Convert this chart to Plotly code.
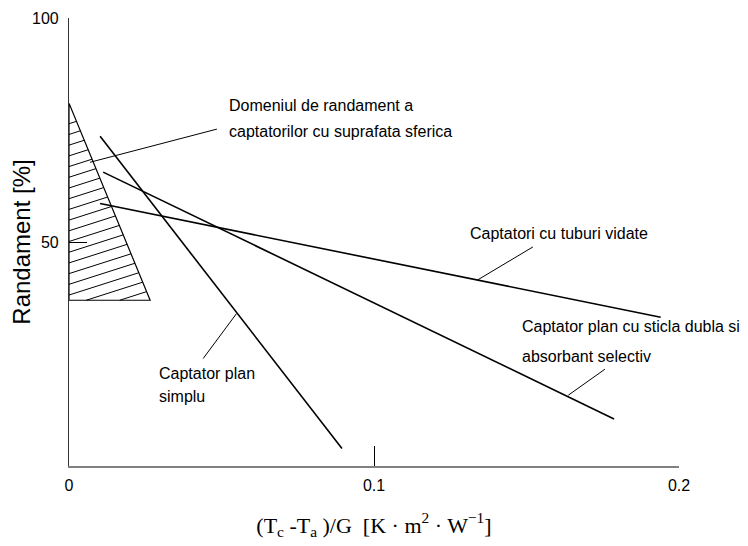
import plotly.graph_objects as go

# ---------------- data ----------------
# collector efficiency lines: (T_c - T_a)/G  vs  efficiency [%]
SIMPLU_X = [0.0102, 0.0895]
SIMPLU_Y = [73.6, 3.9]
DUBLA_X = [0.0112, 0.1787]
DUBLA_Y = [65.6, 10.5]
VIDATE_X = [0.0102, 0.1940]
VIDATE_Y = [58.6, 33.2]

# hatched domain (spherical-surface collectors)
DOMAIN_X = [0.0, 0.0266, 0.0]
DOMAIN_Y = [81.0, 37.0, 37.0]

X_TICKS = [0, 0.1, 0.2]
X_TICK_TEXT = ["0", "0.1", "0.2"]
Y_TICKS = [50, 100]
Y_TICK_TEXT = ["50", "100"]

# label texts with anchor (x, y) and leader segments (from line point to label)
LABELS = [
    ("Domeniul de randament a", 0.0518, 80.5),
    ("captatorilor cu suprafata sferica", 0.0518, 74.7),
    ("Captatori cu tuburi vidate", 0.1308, 52.0),
    ("Captator plan cu sticla dubla si", 0.1479, 31.1),
    ("absorbant selectiv", 0.1479, 24.4),
    ("Captator plan", 0.0287, 20.7),
    ("simplu", 0.0287, 15.5),
]
LEADER_X0 = [0.0069, 0.1339, 0.1637, 0.0549]
LEADER_Y0 = [67.8, 41.5, 15.8, 34.0]
LEADER_X1 = [0.0485, 0.1521, 0.1757, 0.0440]
LEADER_Y1 = [75.2, 48.9, 21.6, 24.0]

# hatch style (slope in data units, spacing in %, first line intercept)
HATCH_SLOPE = 217.7
HATCH_STEP = 2.39
HATCH_TOP = 76.4

# ---------------- hatch geometry (clip lines to triangle) ----------------
def clip_line_to_polygon(c, s, px, py):
    pts = []
    n = len(px)
    for i in range(n):
        x0, y0 = px[i], py[i]
        x1, y1 = px[(i + 1) % n], py[(i + 1) % n]
        f0 = y0 - (c + s * x0)
        f1 = y1 - (c + s * x1)
        if f0 == f1:
            continue
        t = f0 / (f0 - f1)
        if 0 <= t <= 1:
            xi = x0 + t * (x1 - x0)
            pts.append((xi, c + s * xi))
    if len(pts) < 2:
        return None
    pts.sort()
    return pts[0], pts[-1]

hx, hy = [], []
c = HATCH_TOP
ymin = min(DOMAIN_Y)
while c > ymin - HATCH_SLOPE * max(DOMAIN_X):
    seg = clip_line_to_polygon(c, HATCH_SLOPE, DOMAIN_X, DOMAIN_Y)
    if seg and seg[1][0] - seg[0][0] > 1e-5:
        hx += [seg[0][0], seg[1][0], None]
        hy += [seg[0][1], seg[1][1], None]
    c -= HATCH_STEP

fig = go.Figure()

# hatch
fig.add_trace(go.Scatter(x=hx, y=hy, mode="lines",
                         line=dict(color="black", width=1), hoverinfo="skip"))
# domain outline
fig.add_trace(go.Scatter(x=DOMAIN_X + [DOMAIN_X[0]], y=DOMAIN_Y + [DOMAIN_Y[0]],
                         mode="lines", line=dict(color="black", width=1.2)))
# collector lines
for xs, ys in [(SIMPLU_X, SIMPLU_Y), (DUBLA_X, DUBLA_Y), (VIDATE_X, VIDATE_Y)]:
    fig.add_trace(go.Scatter(x=xs, y=ys, mode="lines",
                             line=dict(color="black", width=1.6)))
# leaders
lx, ly = [], []
for a, b, c2, d in zip(LEADER_X0, LEADER_Y0, LEADER_X1, LEADER_Y1):
    lx += [a, c2, None]
    ly += [b, d, None]
fig.add_trace(go.Scatter(x=lx, y=ly, mode="lines",
                         line=dict(color="black", width=1)))

for text, x, y in LABELS:
    fig.add_annotation(x=x, y=y, text=text, showarrow=False,
                       xanchor="left", yanchor="middle",
                       font=dict(family="Liberation Sans, Arial", size=16, color="black"))

fig.update_xaxes(range=[0, 0.2], showgrid=False, zeroline=False,
                 showline=True, linecolor="#808080", linewidth=2,
                 ticks="inside", ticklen=20, tickwidth=1, tickcolor="black",
                 tickvals=X_TICKS, ticktext=X_TICK_TEXT,
                 ticklabelstandoff=4,
                 tickfont=dict(family="Liberation Sans, Arial", size=16, color="black"),
                 title=dict(text="(T<sub>c</sub> -T<sub>a</sub> )/G&nbsp;&nbsp;[K · m<sup>2</sup> · W<sup>−1</sup>]",
                            font=dict(family="Liberation Serif, Times New Roman", size=22, color="black"),
                            standoff=24))
fig.update_yaxes(range=[0, 100], showgrid=False, zeroline=False,
                 showline=True, linecolor="#333333", linewidth=1.2,
                 ticks="inside", ticklen=18, tickwidth=1, tickcolor="black",
                 tickvals=Y_TICKS, ticktext=Y_TICK_TEXT,
                 ticklabelstandoff=6,
                 tickfont=dict(family="Liberation Sans, Arial", size=16, color="black"),
                 title=dict(text="Randament [%]",
                            font=dict(family="Liberation Sans, Arial", size=24, color="black"),
                            standoff=4))

# page body has an 8px margin, so the figure is sized to fit the window
fig.update_layout(width=740, height=538, showlegend=False,
                  paper_bgcolor="white", plot_bgcolor="white",
                  margin=dict(l=61, r=69, t=10, b=80, autoexpand=False))

fig.write_html("out.html")
